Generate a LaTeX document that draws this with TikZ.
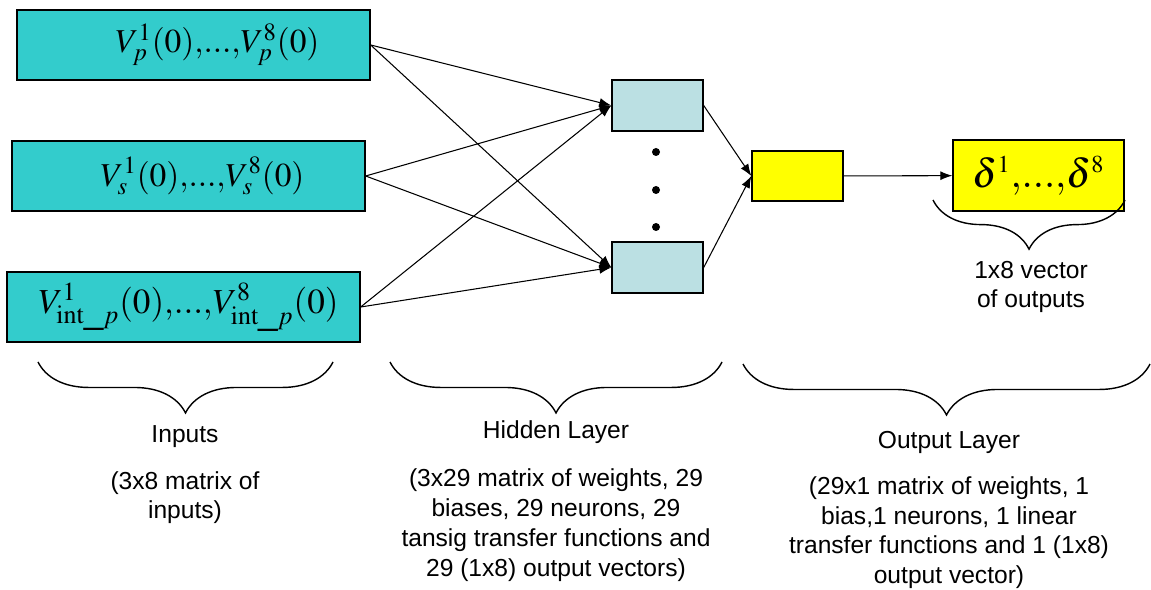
\documentclass[tikz,border=0pt]{standalone}
\usepackage{mathptmx}
\usepackage[no-math]{fontspec}
\setmainfont{Liberation Sans}
\usetikzlibrary{positioning,decorations.pathreplacing,arrows.meta}

\definecolor{incyan}{RGB}{51,204,204}
\definecolor{hidblue}{RGB}{187,224,227}
\definecolor{outyellow}{RGB}{255,255,0}

% tight comma-dots-comma run
\newcommand{\seqdots}{{,}{.}{.}{.}{,}}

\tikzset{
  inbox/.style={draw,thick,fill=incyan,minimum width=7.06cm,minimum height=1.4cm,inner sep=0pt,font=\fontsize{19}{22}\selectfont},
  hidbox/.style={draw,thick,fill=hidblue,minimum width=1.82cm,minimum height=1.02cm},
  outbox/.style={draw,thick,fill=outyellow,inner sep=0pt},
  layerbrace/.style={decorate,thick,decoration={brace,mirror,amplitude=#1}},
  caption/.style={font=\fontsize{14}{17}\selectfont,align=center,inner sep=0pt},
}

\begin{document}
\begin{tikzpicture}[x=0.02cm,y=-0.02cm,>={Latex[length=2.4mm,width=1.8mm]}]
\useasboundingbox (0,0) rectangle (1151,590);

% inputs
\node[inbox] (in1) at (193.5,45) {\hspace*{0.96cm}$V_p^1(0)\seqdots V_p^8(0)$};
\node[inbox] (in2) at (188.5,176) {\hspace*{0.56cm}$V_s^1(0)\seqdots V_s^8(0)$};
\node[inbox,font=\fontsize{20}{24}\selectfont] (in3) at (183.5,307) {\hspace*{0.2cm}$V^1_{\mathrm{int\_}p}(0)\seqdots V^8_{\mathrm{int\_}p}(0)$};

% hidden layer
\node[hidbox] (h1) at (657.5,105.5) {};
\node[hidbox] (h2) at (657.5,267.5) {};
\foreach \y in {152,190,227}
  \fill (656,\y) circle (4);

% output layer
\node[outbox,minimum width=1.82cm,minimum height=1cm] (o) at (797.5,176) {};
\node[outbox,minimum width=3.42cm,minimum height=1.42cm,font=\fontsize{23}{26}\selectfont] (res) at (1038.5,175.5) {$\delta^{\scriptscriptstyle 1}\seqdots\delta^{\scriptscriptstyle 8}$};

\foreach \i in {1,2,3}{
  \draw[->,semithick] (in\i.east) -- (h1.west);
  \draw[->,semithick] (in\i.east) -- (h2.west);
}
\draw[->,semithick] (h1.east) -- (o.west);
\draw[->,semithick] (h2.east) -- (o.west);
\draw[->,semithick] (o) -- (res);

% braces and captions
\draw[layerbrace=29pt] (38,362) -- (333,362);
\draw[layerbrace=29pt] (390,362) -- (722,362);
\draw[layerbrace=29pt] (743,364) -- (1150,364);
\draw[layerbrace=28pt] (933,200) -- (1125,200);

\node[caption] (intitle) at (185,437) {Inputs};
\node[caption,below=0.45cm of intitle] (indesc) {(3x8 matrix of\\inputs)};
\node[caption] (hidtitle) at (556,432) {Hidden Layer};
\node[caption,below=0.5cm of hidtitle] (hiddesc) {(3x29 matrix of weights, 29\\biases, 29 neurons, 29\\tansig transfer functions and\\29 (1x8) output vectors)};
\node[caption] (outtitle) at (949,442) {Output Layer};
\node[caption,below=0.45cm of outtitle] (outdesc) {(29x1 matrix of weights, 1\\bias,1 neurons, 1 linear\\transfer functions and 1 (1x8)\\output vector)};
\node[caption] (vecnote) at (1031,287) {1x8 vector\\of outputs};
\end{tikzpicture}
\end{document}
